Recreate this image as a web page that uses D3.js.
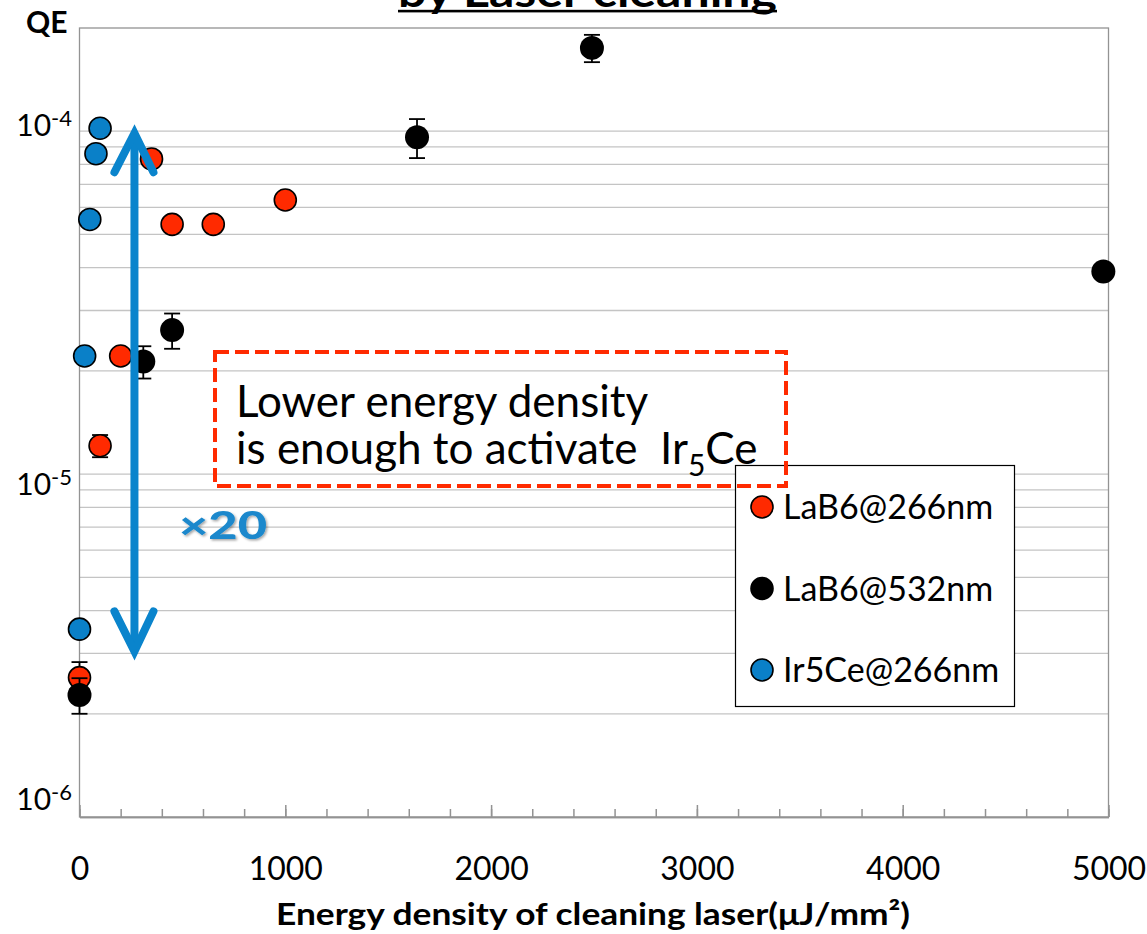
<!DOCTYPE html>
<html>
<head>
<meta charset="utf-8">
<script src="https://cdn.jsdelivr.net/npm/d3@7"></script>
<style>
  body { margin: 0; background: #fff; }
  text { font-family: Lato, "Open Sans", "Liberation Sans", sans-serif; }
</style>
</head>
<body>
<svg id="chart" width="1147" height="934"></svg>
<script>
// QE versus cleaning-laser energy density (µJ/mm²)
const seriesNames = ["LaB6@266nm", "LaB6@532nm", "Ir5Ce@266nm"];

const lab6_266_x   = [0, 100, 200, 350, 450, 650, 1000];
const lab6_266_qe  = [2.55e-6, 1.21e-5, 2.21e-5, 8.3e-5, 5.35e-5, 5.35e-5, 6.3e-5];
const lab6_266_err = [0.28e-6, 0.09e-5, 0, 0, 0, 0, 0];

const lab6_532_x   = [0, 310, 450, 1640, 2490, 4975];
const lab6_532_qe  = [2.27e-6, 2.13e-5, 2.63e-5, 9.6e-5, 1.75e-4, 3.9e-5];
const lab6_532_err = [0.27e-6, 0.23e-5, 0.31e-5, 1.25e-5, 0.16e-4, 0];

const ir5ce_266_x   = [0, 25, 50, 80, 100];
const ir5ce_266_qe  = [3.53e-6, 2.21e-5, 5.53e-5, 8.6e-5, 1.02e-4];
const ir5ce_266_err = [0, 0, 0, 0, 0];

const xTickLabels = [0, 1000, 2000, 3000, 4000, 5000];
const yDecadeExponents = [-6, -5, -4];

// span of the "×20" arrow (energy density, QE bottom, QE top)
const arrowX = 267;
const arrowSpan = [3.0e-6, 1.0e-4];

const colors = { "LaB6@266nm": "#ff2a00", "LaB6@532nm": "#000000", "Ir5Ce@266nm": "#0a80c8" };

const series = [
  { name: seriesNames[0], x: lab6_266_x, y: lab6_266_qe, e: lab6_266_err },
  { name: seriesNames[1], x: lab6_532_x, y: lab6_532_qe, e: lab6_532_err },
  { name: seriesNames[2], x: ir5ce_266_x, y: ir5ce_266_qe, e: ir5ce_266_err }
];

const svg = d3.select("#chart");
const plot = { left: 79.5, right: 1108.5, top: 28, bottom: 817 };

const x = d3.scaleLinear().domain([0, 5000]).range([plot.left, plot.right]);
const y = d3.scaleLog().domain([1e-6, 2e-4]).range([plot.bottom, plot.top]);

svg.append("rect").attr("width", 1147).attr("height", 934).attr("fill", "#fff");

// horizontal grid at every 1–9 × decade
const gridVals = y.ticks().filter(v => v > 1e-6 * 1.0001 && v < 2e-4 * 0.999);
svg.append("g").selectAll("line").data(gridVals).join("line")
  .attr("x1", plot.left).attr("x2", plot.right)
  .attr("y1", d => y(d)).attr("y2", d => y(d))
  .attr("stroke", "#c4c4c4").attr("stroke-width", 1.3);

// plot frame
svg.append("rect")
  .attr("x", plot.left).attr("y", plot.top)
  .attr("width", plot.right - plot.left).attr("height", plot.bottom - plot.top)
  .attr("fill", "none").attr("stroke", "#939393").attr("stroke-width", 1.3);

// x axis: minor ticks every 200, major every 1000, drawn inward
const minorAxis = d3.axisBottom(x).tickValues(x.ticks(25)).tickSize(-8).tickSizeOuter(0).tickFormat("");
const majorAxis = d3.axisBottom(x).tickValues(xTickLabels).tickSize(-12).tickSizeOuter(0)
  .tickPadding(40).tickFormat(d3.format("d"));

const gMinor = svg.append("g").attr("transform", `translate(0,${plot.bottom})`).call(minorAxis);
const gMajor = svg.append("g").attr("transform", `translate(0,${plot.bottom})`).call(majorAxis);
[gMinor, gMajor].forEach(g => {
  g.select(".domain").attr("stroke", "#939393").attr("stroke-width", 1.5);
  g.selectAll(".tick line").attr("stroke", "#939393").attr("stroke-width", 1.5);
});
gMajor.selectAll(".tick text")
  .attr("font-size", 32).attr("fill", "#000")
  .style("font-family", "Lato, 'Open Sans', sans-serif");

// y labels as powers of ten
const yLabelNudge = { "-4": 5, "-5": 21, "-6": -7 };
const yl = svg.append("g").selectAll("text").data(yDecadeExponents).join("text")
  .attr("x", 72)
  .attr("y", d => y(Math.pow(10, d)) + yLabelNudge[d])
  .attr("text-anchor", "end")
  .attr("font-size", 30).attr("fill", "#000");
yl.append("tspan").text("10");
yl.append("tspan").attr("dy", -10).attr("font-size", 22).text(d => String(d));

// axis titles
svg.append("text").attr("x", 26).attr("y", 33)
  .attr("font-size", 30).attr("font-weight", 700).text("QE");

svg.append("text").attr("x", 276).attr("y", 925)
  .attr("font-size", 31).attr("font-weight", 700)
  .attr("textLength", 634).attr("lengthAdjust", "spacingAndGlyphs")
  .text("Energy density of cleaning laser(μJ/mm²)");

// chart title (top edge of the page)
svg.append("text").attr("x", 398).attr("y", 7)
  .attr("font-size", 42).attr("font-weight", 700)
  .attr("textLength", 379).attr("lengthAdjust", "spacingAndGlyphs")
  .text("by Laser cleaning");
svg.append("rect").attr("x", 398).attr("y", 9.8).attr("width", 379).attr("height", 2.6).attr("fill", "#000");

// data: error bars beneath markers, series in order
series.forEach(s => {
  const pts = s.x.map((xv, i) => ({ x: xv, y: s.y[i], e: s.e[i] }));
  const g = svg.append("g");
  const eb = pts.filter(p => p.e > 0);
  g.selectAll("line.err").data(eb).join("line").attr("class", "err")
    .attr("x1", d => x(d.x)).attr("x2", d => x(d.x))
    .attr("y1", d => y(d.y + d.e)).attr("y2", d => y(d.y - d.e))
    .attr("stroke", "#000").attr("stroke-width", 1.8);
  ["+", "-"].forEach(sign => {
    g.selectAll("line.cap" + (sign === "+" ? "t" : "b")).data(eb).join("line")
      .attr("class", "cap" + (sign === "+" ? "t" : "b"))
      .attr("x1", d => x(d.x) - 8).attr("x2", d => x(d.x) + 8)
      .attr("y1", d => y(sign === "+" ? d.y + d.e : d.y - d.e))
      .attr("y2", d => y(sign === "+" ? d.y + d.e : d.y - d.e))
      .attr("stroke", "#000").attr("stroke-width", 1.8);
  });
  const isBlack = colors[s.name] === "#000000";
  g.selectAll("circle").data(pts).join("circle")
    .attr("cx", d => x(d.x)).attr("cy", d => y(d.y))
    .attr("r", isBlack ? 12 : 11)
    .attr("fill", colors[s.name])
    .attr("stroke", isBlack ? "none" : "#000").attr("stroke-width", 1.6);
});

// legend
const lg = svg.append("g");
lg.append("rect").attr("x", 735.5).attr("y", 465.5).attr("width", 279).attr("height", 241)
  .attr("fill", "#fff").attr("stroke", "#000").attr("stroke-width", 1.2);
const rowY = d3.scalePoint().domain(seriesNames).range([507, 670]);
const rows = lg.selectAll("g.row").data(seriesNames).join("g").attr("class", "row")
  .attr("transform", d => `translate(0,${rowY(d)})`);
rows.append("circle").attr("cx", 762).attr("cy", 0).attr("r", 11)
  .attr("fill", d => colors[d]).attr("stroke", "#000").attr("stroke-width", 1.6);
rows.append("text").attr("x", 783).attr("y", 12).attr("font-size", 34).text(d => d);

// dashed annotation box
svg.append("rect").attr("x", 215).attr("y", 352).attr("width", 571).attr("height", 134)
  .attr("fill", "none").attr("stroke", "#ff2a00").attr("stroke-width", 4)
  .attr("stroke-dasharray", "14 6");
svg.append("text").attr("x", 236).attr("y", 417).attr("font-size", 44).text("Lower energy density");
const t2 = svg.append("text").attr("x", 236).attr("y", 464).attr("font-size", 44).style("white-space", "pre");
t2.append("tspan").text("is enough to activate  Ir");
t2.append("tspan").attr("font-size", 30).attr("dy", 12).text("5");
t2.append("tspan").attr("dy", -12).text("Ce");

// ×20 double-headed arrow
const defs = svg.append("defs");
const f = defs.append("filter").attr("id", "shadow").attr("x", "-20%").attr("y", "-20%").attr("width", "140%").attr("height", "140%");
f.append("feDropShadow").attr("dx", 1.5).attr("dy", 1.5).attr("stdDeviation", 1).attr("flood-color", "#000").attr("flood-opacity", 0.35);

const ax = x(arrowX), ayTop = y(arrowSpan[1]), ayBot = y(arrowSpan[0]);
const arrowG = svg.append("g").attr("stroke", "#0a84cc").attr("fill", "none").attr("stroke-width", 8);
arrowG.append("line").attr("x1", ax).attr("x2", ax).attr("y1", ayTop + 4).attr("y2", ayBot - 4);
arrowG.append("path").attr("d", `M${ax - 20},${ayTop + 41} L${ax},${ayTop + 2} L${ax + 19},${ayTop + 41}`)
  .attr("stroke-linecap", "round").attr("stroke-linejoin", "miter");
arrowG.append("path").attr("d", `M${ax - 20},${ayBot - 42} L${ax},${ayBot - 2} L${ax + 19},${ayBot - 42}`)
  .attr("stroke-linecap", "round").attr("stroke-linejoin", "miter");

svg.append("text").attr("x", 179).attr("y", 539).attr("font-size", 38).attr("font-weight", 900)
  .attr("textLength", 88).attr("lengthAdjust", "spacingAndGlyphs")
  .attr("fill", "#1a88cc").attr("filter", "url(#shadow)").text("×20");
</script>
</body>
</html>
